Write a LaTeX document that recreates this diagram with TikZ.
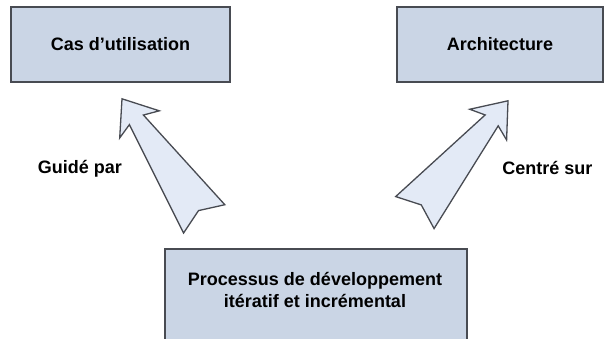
\documentclass[tikz,border=0pt]{standalone}
\usepackage{fontspec}
\setmainfont{Liberation Sans}
\usetikzlibrary{positioning}
\definecolor{boxblue}{RGB}{202,213,229}
\definecolor{arrowblue}{RGB}{227,234,246}
\definecolor{edgegrey}{RGB}{72,75,82}
\tikzset{font=\fontsize{18}{22}\selectfont\bfseries}
\tikzstyle{box}=[draw=edgegrey,fill=boxblue,line width=1.6pt,inner sep=0pt]
\tikzstyle{arrowline}=[draw=edgegrey,fill=arrowblue,line width=1.3pt,line join=miter]
% block arrow, tip at the origin, pointing along +x
\tikzset{bigarrow/.pic={
  \path[arrowline] (0,0) -- (-31,24) -- (-25.5,8.5) -- (-145.5,25) -- (-135.5,0)
    -- (-145.5,-25) -- (-25.5,-8.5) -- (-31,-24) -- cycle;
}}

\begin{document}
\begin{tikzpicture}[x=1pt,y=1pt]
\useasboundingbox (0,0) rectangle (605,338);
\clip (0,0) rectangle (605,338);
\node[box,minimum width=219,minimum height=75] (use) at (120.5,293.5) {Cas d'utilisation};
\node[box,minimum width=206,minimum height=75] (arch) at (500,293.5) {Architecture};
\node[box,minimum width=302,minimum height=100,anchor=north] (proc) at (316,90) {};
\node[align=center] (proctxt) at (315,48) {Processus de développement\\itératif et incrémental};
\node (guide) at (80,169) {Guidé par};
\node (centre) at (547.5,170) {Centré sur};
\coordinate (tipL) at ([xshift=1.5pt,yshift=-16pt]use.south);
\coordinate (tipR) at ([xshift=8pt,yshift=-18pt]arch.south);
\pic[rotate=124.4] at (tipL) {bigarrow};
\pic[rotate=50.2] at (tipR) {bigarrow};
\end{tikzpicture}
\end{document}
